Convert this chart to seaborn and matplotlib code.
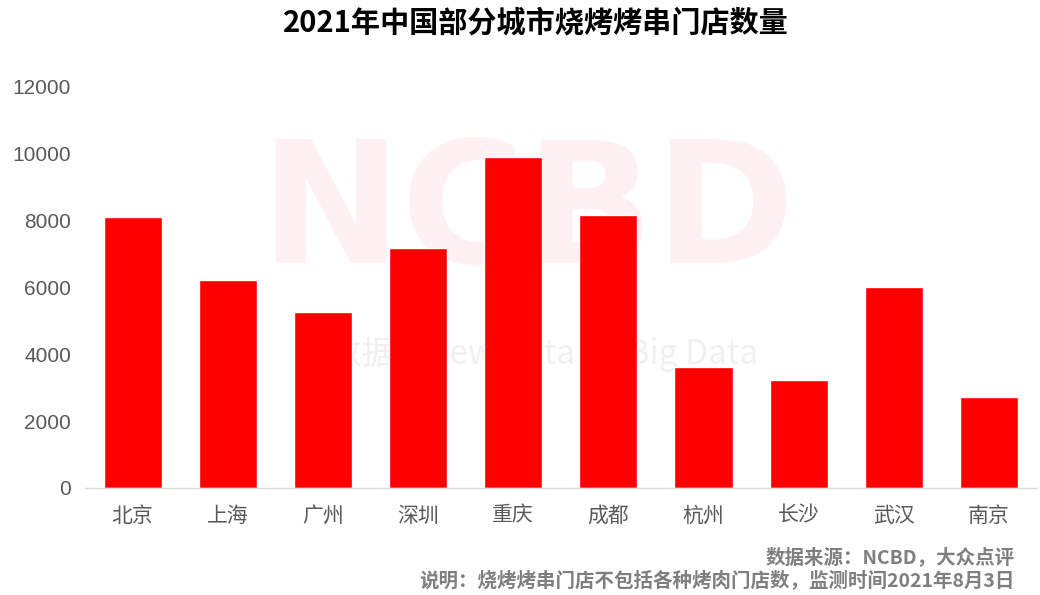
import pandas as pd
import matplotlib.pyplot as plt
import seaborn as sns

cities = ["北京", "上海", "广州", "深圳", "重庆", "成都", "杭州", "长沙", "武汉", "南京"]
stores = [8110, 6225, 5270, 7185, 9905, 8170, 3625, 3235, 6015, 2725]

title = "2021年中国部分城市烧烤烤串门店数量"
note_source = "数据来源：NCBD，大众点评"
note_desc = "说明：烧烤烤串门店不包括各种烤肉门店数，监测时间2021年8月3日"

df = pd.DataFrame({"city": cities, "stores": stores})

sns.set_theme(style="white")
plt.rcParams["font.family"] = ["Noto Sans CJK SC", "DejaVu Sans"]

fig = plt.figure(figsize=(10.4, 5.95), dpi=100)
ax = fig.add_axes([0.0817, 0.180, 0.915, 0.674])

# faint watermark, kept under the bars
ax.text(0.507, 0.637, "NCBD", transform=fig.transFigure, ha="center", va="center",
        fontsize=122, fontweight="bold", color="#fff0f3", family="DejaVu Sans",
        zorder=1)
ax.text(0.506, 0.405, "新数据    New Data       Big Data", transform=fig.transFigure,
        ha="center", va="center", fontsize=24, color="#f0f0f0", zorder=1)

sns.barplot(data=df, x="city", y="stores", color="#ff0000", saturation=1,
            width=0.61, ax=ax, zorder=2)

ax.set_ylim(0, 12000)
ax.set_yticks(range(0, 12001, 2000))
ax.set_xlabel("")
ax.set_ylabel("")
ax.tick_params(axis="y", labelsize=15, labelcolor="#595959", length=0, pad=10)
ax.tick_params(axis="x", labelsize=15, labelcolor="#595959", length=0, pad=12)
for lbl in ax.get_yticklabels():
    lbl.set_family("Liberation Sans")

sns.despine(ax=ax, left=True)
ax.spines["bottom"].set_color("#d9d9d9")
ax.spines["bottom"].set_linewidth(1)

fig.text(0.515, 0.962, title, ha="center", va="center", fontsize=21,
         fontweight="bold", color="black")
fig.text(0.976, 0.064, note_source, ha="right", va="center", fontsize=14,
         fontweight="bold", color="#7f7f7f")
fig.text(0.976, 0.024, note_desc, ha="right", va="center", fontsize=14,
         fontweight="bold", color="#7f7f7f")

fig.savefig("out.png", dpi=100)
